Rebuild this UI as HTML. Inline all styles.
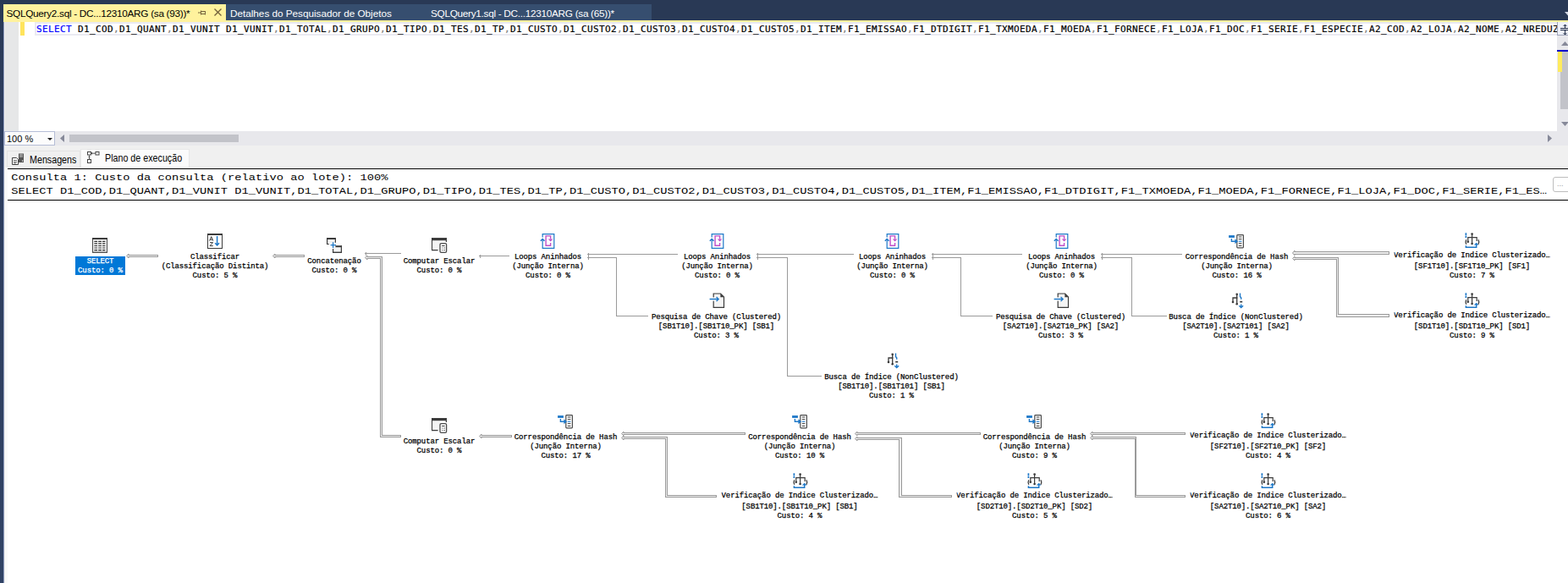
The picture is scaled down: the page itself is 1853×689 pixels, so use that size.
<!DOCTYPE html><html lang="pt-BR"><head><meta charset="utf-8"><title>SQLQuery2.sql - Plano de execução</title><style>
*{box-sizing:border-box}
html,body{margin:0;padding:0}
body{width:1853px;height:689px;overflow:hidden;background:#fff;position:relative;font-family:"Liberation Sans",sans-serif;font-size:12px;color:#000}
.abs,.ic,.n,.t{position:absolute}
.ic{overflow:visible}
#top{left:0;top:0;width:1853px;height:24px;background:#293955}
#strip{left:0;top:0;width:4px;height:689px;background:linear-gradient(#293955,#2c3c5c 15%,#314365)}
#strip2{left:4px;top:26px;width:1px;height:663px;background:#8f9cbd}
#strip3{left:5px;top:26px;width:1px;height:663px;background:#ececec}
#strip4{left:6px;top:199px;width:3px;height:490px;background:#fafafa}
#yline{left:4px;top:24px;width:1849px;height:2px;background:#fff29d}
.tab{position:absolute;top:5px;height:19px;line-height:19px;white-space:nowrap;font-size:11.8px;letter-spacing:-0.3px}
#tab1{left:4px;width:263px;height:21px;background:#fff29d;color:#000}
#tab2{left:267px;width:233px;background:#364e6f;color:#fff}
#tab3{left:500px;width:270px;background:#364e6f;color:#fff}
.tab span{position:absolute;top:2px;left:0}
#gutter{left:4px;top:26px;width:18px;height:129px;background:#e6e7e8}
#chg{left:24px;top:26px;width:5px;height:16px;background:#ffe45c}
#curline{left:41px;top:26px;width:1799px;height:16px;border:2px solid #eaeaf2;border-width:2px 0 2px 2px;background:#fff}
#code{left:43px;top:27px;height:16px;line-height:16px;white-space:pre;font-family:"DejaVu Sans Mono","Liberation Mono",monospace;font-size:11px;letter-spacing:0.377px;width:1797px;overflow:hidden;-webkit-text-stroke:0.2px currentColor}
#code b{font-weight:normal;color:#0000ff}
#code i{font-style:normal;color:#808080}
#vs{left:1840px;top:26px;width:13px;height:129px;background:#e8e8ec}
#split{left:1840px;top:26px;width:13px;height:16px;background:#eef1fa;border-left:1px solid #9fa4b8;border-bottom:1px solid #9fa4b8}
#hs{left:4px;top:155px;width:1849px;height:17px;background:#e8e8ec}
#zoom{left:5px;top:155px;width:60px;height:17px;z-index:3;background:#fcfcfc;border:1px solid #b5bdd6;font-size:11px;line-height:17px;padding-left:2px}
#thumb{left:82px;top:159px;width:200px;height:9px;background:#c2c3c9}
#vthumb{left:1844px;top:61px;width:9px;height:68px;background:#c2c3c9}
#rtabs{left:5px;top:172px;width:1848px;height:27px;background:#f0f0f0}
.rt{position:absolute;white-space:nowrap;font-size:12.5px;transform:scaleX(0.857);transform-origin:0 0}
#rt1{left:8px;top:178px;width:87px;height:21px;background:#f0f0f0;border:1px solid #e3e3e3;border-bottom:none}
#rt2{left:95px;top:176px;width:129px;height:23px;background:#fbfbfb;border:1px solid #e8e8e8;border-bottom:none}
#l1{left:9px;top:199px;width:1844px;height:1px;background:#000}
#l2{left:9px;top:236px;width:1844px;height:1px;background:#000}
.h{position:absolute;left:13.2px;white-space:pre;font-family:"Liberation Mono",monospace;font-size:13.73px;letter-spacing:0.016px;line-height:16px;height:16px;transform:scaleY(0.86);transform-origin:0 12px}
#more{left:1835px;top:209px;width:24px;height:18px;border:1px solid #bdbdbd;border-radius:3px;background:#fff;font-size:9px;color:#999;line-height:15px;padding-left:4px}
.n{white-space:pre;text-align:center;font-family:"Liberation Mono",monospace;font-size:9px;letter-spacing:-0.12px;-webkit-text-stroke:0.25px currentColor;line-height:11px;height:11px;transform:translateX(-50%)}
.n.c{overflow:hidden}
.ia{display:inline-block;clip-path:inset(1px 0 0 0)}
#sel{left:89px;top:303px;width:59px;height:22px;background:#0078d7}
.w{color:#fff}
</style></head><body>
<div class="abs" id="top"></div><div class="abs" id="yline"></div>
<div class="tab" id="tab1"><span style="left:3.5px">SQLQuery2.sql - DC...12310ARG (sa (93))*</span><svg class="ic" style="left:229px;top:4px" width="12" height="12" viewBox="0 0 12 12"><path d="M1 6h3.5M4.5 3.5v5M4.5 4.5h5v3h-5M9.5 4v4.5" fill="none" stroke="#75633d" stroke-width="1"/></svg><svg class="ic" style="left:248px;top:4px" width="12" height="12" viewBox="0 0 12 12"><path d="M1.5 1.5l8 8M9.5 1.5l-8 8" fill="none" stroke="#75633d" stroke-width="1.3"/></svg></div>
<div class="tab" id="tab2"><span style="left:5px;letter-spacing:-0.04px">Detalhes do Pesquisador de Objetos</span></div>
<div class="tab" id="tab3"><span style="left:9px">SQLQuery1.sql - DC...12310ARG (sa (65))*</span></div>
<svg class="ic" style="left:1849px;top:14px" width="8" height="5" viewBox="0 0 8 5"><path d="M0 0h8l-4 4.5z" fill="#d0d6e2"/></svg>
<div class="abs" id="gutter"></div><div class="abs" id="chg"></div><div class="abs" id="curline"></div>
<div class="abs" id="code"><b>SELECT</b> D1_COD<i>,</i>D1_QUANT<i>,</i>D1_VUNIT D1_VUNIT<i>,</i>D1_TOTAL<i>,</i>D1_GRUPO<i>,</i>D1_TIPO<i>,</i>D1_TES<i>,</i>D1_TP<i>,</i>D1_CUSTO<i>,</i>D1_CUSTO2<i>,</i>D1_CUSTO3<i>,</i>D1_CUSTO4<i>,</i>D1_CUSTO5<i>,</i>D1_ITEM<i>,</i>F1_EMISSAO<i>,</i>F1_DTDIGIT<i>,</i>F1_TXMOEDA<i>,</i>F1_MOEDA<i>,</i>F1_FORNECE<i>,</i>F1_LOJA<i>,</i>F1_DOC<i>,</i>F1_SERIE<i>,</i>F1_ESPECIE<i>,</i>A2_COD<i>,</i>A2_LOJA<i>,</i>A2_NOME<i>,</i>A2_NREDUZ</div>
<div class="abs" id="vs"></div><div class="abs" id="vthumb"></div><div class="abs" id="split"></div>
<svg class="ic" style="left:1844px;top:28px" width="12" height="14" viewBox="0 0 12 14"><path d="M0 5.5h12M0 7.5h12M5.5 1v4M5.5 8v5M3.5 3l2-2l2 2M3.5 11l2 2l2-2" fill="none" stroke="#1e2a44" stroke-width="1"/></svg>
<svg class="ic" style="left:1845px;top:49px" width="9" height="5" viewBox="0 0 9 5"><path d="M0 5l4.5-5l4.5 5z" fill="#868999"/></svg>
<svg class="ic" style="left:1845px;top:144px" width="9" height="5" viewBox="0 0 9 5"><path d="M0 0h9l-4.5 5z" fill="#868999"/></svg>
<div class="abs" style="left:1840px;top:59px;width:13px;height:2px;background:#0000cd"></div><div class="abs" style="left:1841px;top:61px;width:5px;height:24px;background:#ffeb5e"></div>
<div class="abs" id="hs"></div><div class="abs" id="zoom">100 %</div><div class="abs" id="thumb"></div>
<svg class="ic" style="left:56px;top:163px;z-index:4" width="6" height="3" viewBox="0 0 6 3"><path d="M0 0h6l-3 3z" fill="#1e1e1e"/></svg>
<svg class="ic" style="left:71px;top:159px" width="5" height="9" viewBox="0 0 5 9"><path d="M5 0v9l-5-4.5z" fill="#868999"/></svg>
<svg class="ic" style="left:1829px;top:159px" width="5" height="9" viewBox="0 0 5 9"><path d="M0 0v9l5-4.5z" fill="#868999"/></svg>
<div class="abs" id="rtabs"></div>
<div class="abs" id="rt1"><span class="rt" style="left:26px;top:2.5px">Mensagens</span><svg class="ic" style="left:5px;top:2px" width="16" height="14" viewBox="0 0 16 14"><path d="M0.5 5.5h5l2 2v6h-7z" fill="#fff" stroke="#444" stroke-width="1"/><path d="M2 8.5h4M2 10.5h4M2 12h3" stroke="#444" stroke-width="0.8"/><rect x="8" y="0.5" width="6" height="10.5" fill="#555"/><path d="M9 2h4M9 4h4" stroke="#eee" stroke-width="0.8"/><rect x="12" y="8.5" width="1.2" height="1.2" fill="#fff"/></svg></div>
<div class="abs" id="rt2"><span class="rt" style="left:28px;top:3px">Plano de execução</span><svg class="ic" style="left:7px;top:2px" width="15" height="14" viewBox="0 0 15 14"><g fill="#fff" stroke="#444" stroke-width="1"><rect x="0.5" y="0.5" width="4" height="3.5"/><rect x="10" y="0.5" width="4" height="3.5"/><rect x="0.5" y="9.5" width="4" height="4"/></g><path d="M5 2.2h5M2.5 4.5v5M6.3 1.2l-1.3 1l1.3 1M1.5 6.4l1 -1l1 1" fill="none" stroke="#444" stroke-width="0.9"/></svg></div>
<div class="abs" style="left:5px;top:198px;width:1848px;height:1px;background:#f9f9f9"></div><div class="abs" id="l1"></div><div class="abs" id="l2"></div>
<div class="h" style="top:202px">Consulta 1: Custo da consulta (relativo ao lote): 100%</div>
<div class="h" style="top:217.8px">SELECT D1_COD,D1_QUANT,D1_VUNIT D1_VUNIT,D1_TOTAL,D1_GRUPO,D1_TIPO,D1_TES,D1_TP,D1_CUSTO,D1_CUSTO2,D1_CUSTO3,D1_CUSTO4,D1_CUSTO5,D1_ITEM,F1_EMISSAO,F1_DTDIGIT,F1_TXMOEDA,F1_MOEDA,F1_FORNECE,F1_LOJA,F1_DOC,F1_SERIE,F1_ES…</div>
<div class="abs" id="more">...</div>
<div class="abs" id="strip"></div><div class="abs" id="strip2"></div><div class="abs" id="strip3"></div><div class="abs" id="strip4"></div>
<svg class="ic" style="left:0;top:0" width="1853" height="689" viewBox="0 0 1853 689" shape-rendering="crispEdges">
<path d="M431 299.5L474 299.5" fill="none" stroke="#9a9a9a" stroke-width="1"/><path d="M432.5 297.5v4" fill="none" stroke="#9a9a9a" stroke-width="1"/>
<path d="M566 302.5L602 302.5" fill="none" stroke="#9a9a9a" stroke-width="1"/><path d="M567.5 300.5v4" fill="none" stroke="#9a9a9a" stroke-width="1"/>
<path d="M694 300.5L801 300.5" fill="none" stroke="#9a9a9a" stroke-width="1"/><path d="M695.5 298.5v4" fill="none" stroke="#9a9a9a" stroke-width="1"/>
<path d="M694 304.5L728.5 304.5L728.5 373.5L766 373.5" fill="none" stroke="#9a9a9a" stroke-width="1"/><path d="M695.5 302.5v4" fill="none" stroke="#9a9a9a" stroke-width="1"/>
<path d="M894 300.5L1009 300.5" fill="none" stroke="#9a9a9a" stroke-width="1"/><path d="M895.5 298.5v4" fill="none" stroke="#9a9a9a" stroke-width="1"/>
<path d="M894 304.5L930.5 304.5L930.5 444.5L971 444.5" fill="none" stroke="#9a9a9a" stroke-width="1"/><path d="M895.5 302.5v4" fill="none" stroke="#9a9a9a" stroke-width="1"/>
<path d="M1101 300.5L1208 300.5" fill="none" stroke="#9a9a9a" stroke-width="1"/><path d="M1102.5 298.5v4" fill="none" stroke="#9a9a9a" stroke-width="1"/>
<path d="M1101 304.5L1135.5 304.5L1135.5 373.5L1173 373.5" fill="none" stroke="#9a9a9a" stroke-width="1"/><path d="M1102.5 302.5v4" fill="none" stroke="#9a9a9a" stroke-width="1"/>
<path d="M1301 300.5L1397 300.5" fill="none" stroke="#9a9a9a" stroke-width="1"/><path d="M1302.5 298.5v4" fill="none" stroke="#9a9a9a" stroke-width="1"/>
<path d="M1301 304.5L1337.5 304.5L1337.5 373.5L1379 373.5" fill="none" stroke="#9a9a9a" stroke-width="1"/><path d="M1302.5 302.5v4" fill="none" stroke="#9a9a9a" stroke-width="1"/>
<rect x="151" y="301" width="36" height="3" fill="#9a9a9a"/><path d="M152 300L149.5 302.5L152 305z" fill="#ececec" stroke="#9a9a9a" stroke-width="1" shape-rendering="auto"/><rect x="151" y="302" width="35" height="1" fill="#ececec"/>
<rect x="324" y="301" width="36" height="3" fill="#9a9a9a"/><path d="M325 300L322.5 302.5L325 305z" fill="#ececec" stroke="#9a9a9a" stroke-width="1" shape-rendering="auto"/><rect x="324" y="302" width="35" height="1" fill="#ececec"/>
<rect x="1529" y="297" width="113" height="4" fill="#9a9a9a"/><path d="M1530 296L1527.5 299.0L1530 302z" fill="#ececec" stroke="#9a9a9a" stroke-width="1" shape-rendering="auto"/><rect x="1529" y="298" width="112" height="2" fill="#ececec"/>
<rect x="568" y="514" width="37" height="3" fill="#9a9a9a"/><path d="M569 513L566.5 515.5L569 518z" fill="#ececec" stroke="#9a9a9a" stroke-width="1" shape-rendering="auto"/><rect x="568" y="515" width="36" height="1" fill="#ececec"/>
<rect x="736" y="511" width="145" height="3" fill="#9a9a9a"/><path d="M737 510L734.5 512.5L737 515z" fill="#ececec" stroke="#9a9a9a" stroke-width="1" shape-rendering="auto"/><rect x="736" y="512" width="144" height="1" fill="#ececec"/>
<rect x="1012" y="511" width="147" height="3" fill="#9a9a9a"/><path d="M1013 510L1010.5 512.5L1013 515z" fill="#ececec" stroke="#9a9a9a" stroke-width="1" shape-rendering="auto"/><rect x="1012" y="512" width="146" height="1" fill="#ececec"/>
<rect x="1290" y="511" width="111" height="3" fill="#9a9a9a"/><path d="M1291 510L1288.5 512.5L1291 515z" fill="#ececec" stroke="#9a9a9a" stroke-width="1" shape-rendering="auto"/><rect x="1290" y="512" width="110" height="1" fill="#ececec"/>
<rect x="433" y="303" width="19" height="3" fill="#9a9a9a"/><rect x="449" y="303" width="3" height="214" fill="#9a9a9a"/><rect x="449" y="514" width="25" height="3" fill="#9a9a9a"/><path d="M434 302L431.5 304.5L434 307z" fill="#ececec" stroke="#9a9a9a" stroke-width="1" shape-rendering="auto"/><rect x="433" y="304" width="18" height="1" fill="#ececec"/><rect x="450" y="304" width="1" height="212" fill="#ececec"/><rect x="450" y="515" width="23" height="1" fill="#ececec"/>
<rect x="1529" y="304" width="53" height="3" fill="#9a9a9a"/><rect x="1579" y="304" width="3" height="71" fill="#9a9a9a"/><rect x="1579" y="371" width="63" height="4" fill="#9a9a9a"/><path d="M1530 303L1527.5 305.5L1530 308z" fill="#ececec" stroke="#9a9a9a" stroke-width="1" shape-rendering="auto"/><rect x="1529" y="305" width="52" height="1" fill="#ececec"/><rect x="1580" y="305" width="1" height="69" fill="#ececec"/><rect x="1580" y="372" width="61" height="2" fill="#ececec"/>
<rect x="736" y="516" width="53" height="3" fill="#9a9a9a"/><rect x="786" y="516" width="3" height="72" fill="#9a9a9a"/><rect x="786" y="585" width="61" height="3" fill="#9a9a9a"/><path d="M737 515L734.5 517.5L737 520z" fill="#ececec" stroke="#9a9a9a" stroke-width="1" shape-rendering="auto"/><rect x="736" y="517" width="52" height="1" fill="#ececec"/><rect x="787" y="517" width="1" height="70" fill="#ececec"/><rect x="787" y="586" width="59" height="1" fill="#ececec"/>
<rect x="1012" y="517" width="54" height="3" fill="#9a9a9a"/><rect x="1062" y="517" width="4" height="71" fill="#9a9a9a"/><rect x="1062" y="585" width="63" height="3" fill="#9a9a9a"/><path d="M1013 516L1010.5 518.5L1013 521z" fill="#ececec" stroke="#9a9a9a" stroke-width="1" shape-rendering="auto"/><rect x="1012" y="518" width="53" height="1" fill="#ececec"/><rect x="1063" y="518" width="2" height="69" fill="#ececec"/><rect x="1063" y="586" width="61" height="1" fill="#ececec"/>
<rect x="1290" y="516" width="53" height="3" fill="#9a9a9a"/><rect x="1341" y="516" width="2" height="72" fill="#9a9a9a"/><rect x="1341" y="585" width="60" height="3" fill="#9a9a9a"/><path d="M1291 515L1288.5 517.5L1291 520z" fill="#ececec" stroke="#9a9a9a" stroke-width="1" shape-rendering="auto"/><rect x="1290" y="517" width="52" height="1" fill="#ececec"/><rect x="1342" y="586" width="58" height="1" fill="#ececec"/>
</svg>
<div class="abs" id="sel"></div>
<svg class="ic" style="left:109px;top:281px" width="18" height="18" viewBox="0 0 18 18"><rect x="0.5" y="0.5" width="17" height="17" fill="#f1f1f1" stroke="#4a4a4a"/><rect x="0" y="0" width="18" height="2" fill="#3b3b3b"/><rect x="0" y="16.6" width="18" height="1.4" fill="#555"/>
<g stroke="#333" stroke-width="1.1"><path d="M2.4 4.4h3.6M7.2 4.4h3.7M12.1 4.4h3.3M2.4 6.9h3.6M7.2 6.9h3.7M12.1 6.9h3.3M2.4 9.5h3.6M7.2 9.5h3.7M12.1 9.5h3.3M2.4 12h3.6M7.2 12h3.7M12.1 12h3.3M2.4 14.6h3.6M7.2 14.6h3.7M12.1 14.6h3.3"/></g></svg>
<div class="n w" style="left:118.5px;top:304.1px">SELECT</div>
<div class="n w" style="left:118.5px;top:315.35px">Custo: 0 %</div>
<svg class="ic" style="left:245px;top:276px" width="18" height="18" viewBox="0 0 18 18"><rect x="0.5" y="0.5" width="17" height="17" fill="#fff" stroke="#3b3b3b"/><rect x="0" y="0" width="18" height="2" fill="#3b3b3b"/>
<path d="M2.6 8.6L4.7 3.6L6.8 8.6M3.3 7.2h2.8" fill="none" stroke="#3b3b3b" stroke-width="1"/><path d="M3 10.6h3.6L3 14.6h3.8" fill="none" stroke="#3b3b3b" stroke-width="1"/>
<path d="M11.6 3v10.6M9.2 11.2l2.4 2.6l2.4-2.6" fill="none" stroke="#1e78c8" stroke-width="1.5"/></svg>
<div class="n" style="left:254px;top:298.6px">Classificar</div>
<div class="n" style="left:254px;top:309.85px">(Classificação Distinta)</div>
<div class="n" style="left:254px;top:321.1px">Custo: 5 %</div>
<svg class="ic" style="left:386px;top:281px" width="18" height="18" viewBox="0 0 18 18"><rect x="1" y="2" width="9" height="5.4" fill="#f4f4f4"/><rect x="0" y="0" width="11" height="2" fill="#3b3b3b"/><rect x="0" y="0" width="1.2" height="8" fill="#3b3b3b"/><rect x="9.8" y="0" width="1.2" height="5.8" fill="#3b3b3b"/><rect x="0" y="7" width="2.8" height="1" fill="#3b3b3b"/>
<rect x="8" y="11" width="9" height="6" fill="#f4f4f4"/><rect x="10.4" y="9.2" width="7.6" height="2" fill="#3b3b3b"/><rect x="7" y="13" width="1.2" height="5" fill="#3b3b3b"/><rect x="16.8" y="9.2" width="1.2" height="8.8" fill="#3b3b3b"/><rect x="7" y="16.6" width="11" height="1.4" fill="#3b3b3b"/>
<path d="M4.6 8.6h6.4M7.6 5.2v6.8" stroke="#1e78c8" stroke-width="1.3" fill="none"/></svg>
<div class="n" style="left:395px;top:304.1px">Concatenação</div>
<div class="n" style="left:395px;top:315.35px">Custo: 0 %</div>
<svg class="ic" style="left:510px;top:281px" width="18" height="18" viewBox="0 0 18 18"><path d="M0.6 1v13.6h7" fill="none" stroke="#3b3b3b" stroke-width="1.2"/><rect x="1.2" y="3" width="9" height="11" fill="#f4f4f4"/><rect x="0" y="0" width="18" height="3.2" fill="#3b3b3b"/><path d="M17.4 3v2" stroke="#3b3b3b" stroke-width="1.2"/>
<rect x="10" y="6.6" width="7.6" height="10.8" rx="1.4" fill="#fff" stroke="#4a4a4a" stroke-width="1.3"/><path d="M12.2 9.5h3.4M12.4 12h1M14.6 12h1.3M12.4 14.6h1M14.6 14.6h1.3" stroke="#3b3b3b" stroke-width="1"/></svg>
<div class="n" style="left:519px;top:304.1px">Computar Escalar</div>
<div class="n" style="left:519px;top:315.35px">Custo: 0 %</div>
<svg class="ic" style="left:638.4px;top:276px" width="18" height="18" viewBox="0 0 18 18"><path d="M3.2 4.6V0.6h13.6v16.8H3.2V6.4" fill="#fff" stroke="#1e78c8" stroke-width="1.2"/><path d="M0.8 8.8L3.2 6.4L5.6 8.8" fill="none" stroke="#1e78c8" stroke-width="1.4"/>
<path d="M12.6 6.5V2.9H7.1v11.3h5.5V11" fill="none" stroke="#c050c8" stroke-width="1.4"/><path d="M9.8 6.4h5.6l-2.8 3.1z" fill="#c050c8"/></svg>
<div class="n" style="left:647.5px;top:298.6px">Loops Aninhados</div>
<div class="n" style="left:647.5px;top:309.85px">(Junção Interna)</div>
<div class="n" style="left:647.5px;top:321.1px">Custo: 0 %</div>
<svg class="ic" style="left:838.4px;top:276px" width="18" height="18" viewBox="0 0 18 18"><path d="M3.2 4.6V0.6h13.6v16.8H3.2V6.4" fill="#fff" stroke="#1e78c8" stroke-width="1.2"/><path d="M0.8 8.8L3.2 6.4L5.6 8.8" fill="none" stroke="#1e78c8" stroke-width="1.4"/>
<path d="M12.6 6.5V2.9H7.1v11.3h5.5V11" fill="none" stroke="#c050c8" stroke-width="1.4"/><path d="M9.8 6.4h5.6l-2.8 3.1z" fill="#c050c8"/></svg>
<div class="n" style="left:847.5px;top:298.6px">Loops Aninhados</div>
<div class="n" style="left:847.5px;top:309.85px">(Junção Interna)</div>
<div class="n" style="left:847.5px;top:321.1px">Custo: 0 %</div>
<svg class="ic" style="left:1045.4px;top:276px" width="18" height="18" viewBox="0 0 18 18"><path d="M3.2 4.6V0.6h13.6v16.8H3.2V6.4" fill="#fff" stroke="#1e78c8" stroke-width="1.2"/><path d="M0.8 8.8L3.2 6.4L5.6 8.8" fill="none" stroke="#1e78c8" stroke-width="1.4"/>
<path d="M12.6 6.5V2.9H7.1v11.3h5.5V11" fill="none" stroke="#c050c8" stroke-width="1.4"/><path d="M9.8 6.4h5.6l-2.8 3.1z" fill="#c050c8"/></svg>
<div class="n" style="left:1054.5px;top:298.6px">Loops Aninhados</div>
<div class="n" style="left:1054.5px;top:309.85px">(Junção Interna)</div>
<div class="n" style="left:1054.5px;top:321.1px">Custo: 0 %</div>
<svg class="ic" style="left:1245.4px;top:276px" width="18" height="18" viewBox="0 0 18 18"><path d="M3.2 4.6V0.6h13.6v16.8H3.2V6.4" fill="#fff" stroke="#1e78c8" stroke-width="1.2"/><path d="M0.8 8.8L3.2 6.4L5.6 8.8" fill="none" stroke="#1e78c8" stroke-width="1.4"/>
<path d="M12.6 6.5V2.9H7.1v11.3h5.5V11" fill="none" stroke="#c050c8" stroke-width="1.4"/><path d="M9.8 6.4h5.6l-2.8 3.1z" fill="#c050c8"/></svg>
<div class="n" style="left:1254.5px;top:298.6px">Loops Aninhados</div>
<div class="n" style="left:1254.5px;top:309.85px">(Junção Interna)</div>
<div class="n" style="left:1254.5px;top:321.1px">Custo: 0 %</div>
<svg class="ic" style="left:1451px;top:276px" width="18" height="18" viewBox="0 0 18 18"><rect x="10.8" y="1.6" width="7.6" height="15.2" rx="0.8" fill="#fff" stroke="#4a4a4a" stroke-width="1.2"/>
<path d="M12.8 4h3.6M12.8 6.6h3.6M12.8 11.6h3.6M12.8 14.4h3.6" stroke="#3b3b3b" stroke-width="1"/><path d="M12.8 9.2h3.6" stroke="#1e78c8" stroke-width="1.1"/>
<rect x="1.1" y="2.1" width="6.8" height="2.8" fill="#1e78c8"/><path d="M4.4 6v3.2h5" fill="none" stroke="#1e78c8" stroke-width="1.4"/><path d="M8.4 6.2l3.6 3l-3.6 3z" fill="#1e78c8"/></svg>
<div class="n" style="left:1461.5px;top:298.6px">Correspondência de Hash</div>
<div class="n" style="left:1461.5px;top:309.85px">(Junção Interna)</div>
<div class="n" style="left:1461.5px;top:321.1px">Custo: 16 %</div>
<svg class="ic" style="left:1730px;top:275px" width="18" height="18" viewBox="0 0 18 18"><path d="M2.4 0.2v5.8" stroke="#1e78c8" stroke-width="1.7" stroke-dasharray="3.4 0.5"/><path d="M2.4 15.2v2.1h12.3v-3.6" fill="none" stroke="#1e78c8" stroke-width="1.5"/><path d="M11.8 14.6l2.9-2.9l2.9 2.9z" fill="#1e78c8"/>
<path d="M9.6 1v12M4.8 10.6V5.6h10.4v4.4" fill="none" stroke="#3b3b3b" stroke-width="1.2"/><circle cx="9.6" cy="1.5" r="1.3" fill="#3b3b3b"/><circle cx="4.8" cy="10.8" r="1.3" fill="#3b3b3b"/><circle cx="9.6" cy="13" r="1.3" fill="#3b3b3b"/>
<path d="M2.8 8.2q-1.6 2.8 0 5.6M17 8.2q1.6 2.8 0 5.6" fill="none" stroke="#3b3b3b" stroke-width="1.3"/></svg>
<div class="n c" style="left:1739.5px;top:297px">Verificação de <span class=ia>Í</span>ndice Clusterizado…</div>
<div class="n" style="left:1739.5px;top:309.85px">[SF1T10].[SF1T10_PK] [SF1]</div>
<div class="n" style="left:1739.5px;top:321.1px">Custo: 7 %</div>
<svg class="ic" style="left:1730px;top:346px" width="18" height="18" viewBox="0 0 18 18"><path d="M2.4 0.2v5.8" stroke="#1e78c8" stroke-width="1.7" stroke-dasharray="3.4 0.5"/><path d="M2.4 15.2v2.1h12.3v-3.6" fill="none" stroke="#1e78c8" stroke-width="1.5"/><path d="M11.8 14.6l2.9-2.9l2.9 2.9z" fill="#1e78c8"/>
<path d="M9.6 1v12M4.8 10.6V5.6h10.4v4.4" fill="none" stroke="#3b3b3b" stroke-width="1.2"/><circle cx="9.6" cy="1.5" r="1.3" fill="#3b3b3b"/><circle cx="4.8" cy="10.8" r="1.3" fill="#3b3b3b"/><circle cx="9.6" cy="13" r="1.3" fill="#3b3b3b"/>
<path d="M2.8 8.2q-1.6 2.8 0 5.6M17 8.2q1.6 2.8 0 5.6" fill="none" stroke="#3b3b3b" stroke-width="1.3"/></svg>
<div class="n c" style="left:1739.5px;top:368px">Verificação de <span class=ia>Í</span>ndice Clusterizado…</div>
<div class="n" style="left:1739.5px;top:380.85px">[SD1T10].[SD1T10_PK] [SD1]</div>
<div class="n" style="left:1739.5px;top:392.1px">Custo: 9 %</div>
<svg class="ic" style="left:838px;top:346px" width="18" height="18" viewBox="0 0 18 18"><path d="M5.2 1h8.4l3.9 3.9v12.5H5.2z" fill="#f4f4f4" stroke="#3b3b3b" stroke-width="1.2"/><path d="M13.4 1v4.2h4.2z" fill="#3b3b3b"/><rect x="4" y="5.4" width="3" height="4.2" fill="#fff"/>
<path d="M0.6 7.5h10.4M8.6 5l2.6 2.5l-2.6 2.5" fill="none" stroke="#1e78c8" stroke-width="1.3"/></svg>
<div class="n" style="left:846.5px;top:369.6px">Pesquisa de Chave (Clustered)</div>
<div class="n" style="left:846.5px;top:380.85px">[SB1T10].[SB1T10_PK] [SB1]</div>
<div class="n" style="left:846.5px;top:392.1px">Custo: 3 %</div>
<svg class="ic" style="left:1245px;top:346px" width="18" height="18" viewBox="0 0 18 18"><path d="M5.2 1h8.4l3.9 3.9v12.5H5.2z" fill="#f4f4f4" stroke="#3b3b3b" stroke-width="1.2"/><path d="M13.4 1v4.2h4.2z" fill="#3b3b3b"/><rect x="4" y="5.4" width="3" height="4.2" fill="#fff"/>
<path d="M0.6 7.5h10.4M8.6 5l2.6 2.5l-2.6 2.5" fill="none" stroke="#1e78c8" stroke-width="1.3"/></svg>
<div class="n" style="left:1253.5px;top:369.6px">Pesquisa de Chave (Clustered)</div>
<div class="n" style="left:1253.5px;top:380.85px">[SA2T10].[SA2T10_PK] [SA2]</div>
<div class="n" style="left:1253.5px;top:392.1px">Custo: 3 %</div>
<svg class="ic" style="left:1452px;top:346px" width="18" height="18" viewBox="0 0 18 18"><path d="M9.7 1.5v12M5 11V6h5.6" fill="none" stroke="#3b3b3b" stroke-width="1.3"/><circle cx="9.7" cy="1.7" r="1.3" fill="#3b3b3b"/><circle cx="5" cy="11" r="1.3" fill="#3b3b3b"/><circle cx="9.7" cy="13.2" r="1.3" fill="#3b3b3b"/>
<path d="M13.5 0.6v4l1.2 1.2v2" fill="none" stroke="#1e78c8" stroke-width="1.4"/><rect x="13.2" y="9.8" width="3" height="1.7" fill="#3b3b3b"/><path d="M14.7 13.4v4M12.3 15.2l2.4 2.4l2.4-2.4" fill="none" stroke="#1e78c8" stroke-width="1.4"/></svg>
<div class="n" style="left:1460.5px;top:369.6px">Busca de Índice (NonClustered)</div>
<div class="n" style="left:1460.5px;top:380.85px">[SA2T10].[SA2T101] [SA2]</div>
<div class="n" style="left:1460.5px;top:392.1px">Custo: 1 %</div>
<svg class="ic" style="left:1045px;top:417px" width="18" height="18" viewBox="0 0 18 18"><path d="M9.7 1.5v12M5 11V6h5.6" fill="none" stroke="#3b3b3b" stroke-width="1.3"/><circle cx="9.7" cy="1.7" r="1.3" fill="#3b3b3b"/><circle cx="5" cy="11" r="1.3" fill="#3b3b3b"/><circle cx="9.7" cy="13.2" r="1.3" fill="#3b3b3b"/>
<path d="M13.5 0.6v4l1.2 1.2v2" fill="none" stroke="#1e78c8" stroke-width="1.4"/><rect x="13.2" y="9.8" width="3" height="1.7" fill="#3b3b3b"/><path d="M14.7 13.4v4M12.3 15.2l2.4 2.4l2.4-2.4" fill="none" stroke="#1e78c8" stroke-width="1.4"/></svg>
<div class="n" style="left:1053.5px;top:440.6px">Busca de Índice (NonClustered)</div>
<div class="n" style="left:1053.5px;top:451.85px">[SB1T10].[SB1T101] [SB1]</div>
<div class="n" style="left:1053.5px;top:463.1px">Custo: 1 %</div>
<svg class="ic" style="left:510px;top:494px" width="18" height="18" viewBox="0 0 18 18"><path d="M0.6 1v13.6h7" fill="none" stroke="#3b3b3b" stroke-width="1.2"/><rect x="1.2" y="3" width="9" height="11" fill="#f4f4f4"/><rect x="0" y="0" width="18" height="3.2" fill="#3b3b3b"/><path d="M17.4 3v2" stroke="#3b3b3b" stroke-width="1.2"/>
<rect x="10" y="6.6" width="7.6" height="10.8" rx="1.4" fill="#fff" stroke="#4a4a4a" stroke-width="1.3"/><path d="M12.2 9.5h3.4M12.4 12h1M14.6 12h1.3M12.4 14.6h1M14.6 14.6h1.3" stroke="#3b3b3b" stroke-width="1"/></svg>
<div class="n" style="left:519px;top:517.1px">Computar Escalar</div>
<div class="n" style="left:519px;top:528.35px">Custo: 0 %</div>
<svg class="ic" style="left:658.0px;top:489px" width="18" height="18" viewBox="0 0 18 18"><rect x="10.8" y="1.6" width="7.6" height="15.2" rx="0.8" fill="#fff" stroke="#4a4a4a" stroke-width="1.2"/>
<path d="M12.8 4h3.6M12.8 6.6h3.6M12.8 11.6h3.6M12.8 14.4h3.6" stroke="#3b3b3b" stroke-width="1"/><path d="M12.8 9.2h3.6" stroke="#1e78c8" stroke-width="1.1"/>
<rect x="1.1" y="2.1" width="6.8" height="2.8" fill="#1e78c8"/><path d="M4.4 6v3.2h5" fill="none" stroke="#1e78c8" stroke-width="1.4"/><path d="M8.4 6.2l3.6 3l-3.6 3z" fill="#1e78c8"/></svg>
<div class="n" style="left:668.5px;top:511.6px">Correspondência de Hash</div>
<div class="n" style="left:668.5px;top:522.85px">(Junção Interna)</div>
<div class="n" style="left:668.5px;top:534.1px">Custo: 17 %</div>
<svg class="ic" style="left:934.5px;top:489px" width="18" height="18" viewBox="0 0 18 18"><rect x="10.8" y="1.6" width="7.6" height="15.2" rx="0.8" fill="#fff" stroke="#4a4a4a" stroke-width="1.2"/>
<path d="M12.8 4h3.6M12.8 6.6h3.6M12.8 11.6h3.6M12.8 14.4h3.6" stroke="#3b3b3b" stroke-width="1"/><path d="M12.8 9.2h3.6" stroke="#1e78c8" stroke-width="1.1"/>
<rect x="1.1" y="2.1" width="6.8" height="2.8" fill="#1e78c8"/><path d="M4.4 6v3.2h5" fill="none" stroke="#1e78c8" stroke-width="1.4"/><path d="M8.4 6.2l3.6 3l-3.6 3z" fill="#1e78c8"/></svg>
<div class="n" style="left:945px;top:511.6px">Correspondência de Hash</div>
<div class="n" style="left:945px;top:522.85px">(Junção Interna)</div>
<div class="n" style="left:945px;top:534.1px">Custo: 10 %</div>
<svg class="ic" style="left:1212.0px;top:489px" width="18" height="18" viewBox="0 0 18 18"><rect x="10.8" y="1.6" width="7.6" height="15.2" rx="0.8" fill="#fff" stroke="#4a4a4a" stroke-width="1.2"/>
<path d="M12.8 4h3.6M12.8 6.6h3.6M12.8 11.6h3.6M12.8 14.4h3.6" stroke="#3b3b3b" stroke-width="1"/><path d="M12.8 9.2h3.6" stroke="#1e78c8" stroke-width="1.1"/>
<rect x="1.1" y="2.1" width="6.8" height="2.8" fill="#1e78c8"/><path d="M4.4 6v3.2h5" fill="none" stroke="#1e78c8" stroke-width="1.4"/><path d="M8.4 6.2l3.6 3l-3.6 3z" fill="#1e78c8"/></svg>
<div class="n" style="left:1222.5px;top:511.6px">Correspondência de Hash</div>
<div class="n" style="left:1222.5px;top:522.85px">(Junção Interna)</div>
<div class="n" style="left:1222.5px;top:534.1px">Custo: 9 %</div>
<svg class="ic" style="left:1489px;top:488px" width="18" height="18" viewBox="0 0 18 18"><path d="M2.4 0.2v5.8" stroke="#1e78c8" stroke-width="1.7" stroke-dasharray="3.4 0.5"/><path d="M2.4 15.2v2.1h12.3v-3.6" fill="none" stroke="#1e78c8" stroke-width="1.5"/><path d="M11.8 14.6l2.9-2.9l2.9 2.9z" fill="#1e78c8"/>
<path d="M9.6 1v12M4.8 10.6V5.6h10.4v4.4" fill="none" stroke="#3b3b3b" stroke-width="1.2"/><circle cx="9.6" cy="1.5" r="1.3" fill="#3b3b3b"/><circle cx="4.8" cy="10.8" r="1.3" fill="#3b3b3b"/><circle cx="9.6" cy="13" r="1.3" fill="#3b3b3b"/>
<path d="M2.8 8.2q-1.6 2.8 0 5.6M17 8.2q1.6 2.8 0 5.6" fill="none" stroke="#3b3b3b" stroke-width="1.3"/></svg>
<div class="n c" style="left:1498.5px;top:510px">Verificação de <span class=ia>Í</span>ndice Clusterizado…</div>
<div class="n" style="left:1498.5px;top:522.85px">[SF2T10].[SF2T10_PK] [SF2]</div>
<div class="n" style="left:1498.5px;top:534.1px">Custo: 4 %</div>
<svg class="ic" style="left:935.5px;top:559px" width="18" height="18" viewBox="0 0 18 18"><path d="M2.4 0.2v5.8" stroke="#1e78c8" stroke-width="1.7" stroke-dasharray="3.4 0.5"/><path d="M2.4 15.2v2.1h12.3v-3.6" fill="none" stroke="#1e78c8" stroke-width="1.5"/><path d="M11.8 14.6l2.9-2.9l2.9 2.9z" fill="#1e78c8"/>
<path d="M9.6 1v12M4.8 10.6V5.6h10.4v4.4" fill="none" stroke="#3b3b3b" stroke-width="1.2"/><circle cx="9.6" cy="1.5" r="1.3" fill="#3b3b3b"/><circle cx="4.8" cy="10.8" r="1.3" fill="#3b3b3b"/><circle cx="9.6" cy="13" r="1.3" fill="#3b3b3b"/>
<path d="M2.8 8.2q-1.6 2.8 0 5.6M17 8.2q1.6 2.8 0 5.6" fill="none" stroke="#3b3b3b" stroke-width="1.3"/></svg>
<div class="n c" style="left:945px;top:581px">Verificação de <span class=ia>Í</span>ndice Clusterizado…</div>
<div class="n" style="left:945px;top:593.85px">[SB1T10].[SB1T10_PK] [SB1]</div>
<div class="n" style="left:945px;top:605.1px">Custo: 4 %</div>
<svg class="ic" style="left:1213px;top:559px" width="18" height="18" viewBox="0 0 18 18"><path d="M2.4 0.2v5.8" stroke="#1e78c8" stroke-width="1.7" stroke-dasharray="3.4 0.5"/><path d="M2.4 15.2v2.1h12.3v-3.6" fill="none" stroke="#1e78c8" stroke-width="1.5"/><path d="M11.8 14.6l2.9-2.9l2.9 2.9z" fill="#1e78c8"/>
<path d="M9.6 1v12M4.8 10.6V5.6h10.4v4.4" fill="none" stroke="#3b3b3b" stroke-width="1.2"/><circle cx="9.6" cy="1.5" r="1.3" fill="#3b3b3b"/><circle cx="4.8" cy="10.8" r="1.3" fill="#3b3b3b"/><circle cx="9.6" cy="13" r="1.3" fill="#3b3b3b"/>
<path d="M2.8 8.2q-1.6 2.8 0 5.6M17 8.2q1.6 2.8 0 5.6" fill="none" stroke="#3b3b3b" stroke-width="1.3"/></svg>
<div class="n c" style="left:1222.5px;top:581px">Verificação de <span class=ia>Í</span>ndice Clusterizado…</div>
<div class="n" style="left:1222.5px;top:593.85px">[SD2T10].[SD2T10_PK] [SD2]</div>
<div class="n" style="left:1222.5px;top:605.1px">Custo: 5 %</div>
<svg class="ic" style="left:1489px;top:559px" width="18" height="18" viewBox="0 0 18 18"><path d="M2.4 0.2v5.8" stroke="#1e78c8" stroke-width="1.7" stroke-dasharray="3.4 0.5"/><path d="M2.4 15.2v2.1h12.3v-3.6" fill="none" stroke="#1e78c8" stroke-width="1.5"/><path d="M11.8 14.6l2.9-2.9l2.9 2.9z" fill="#1e78c8"/>
<path d="M9.6 1v12M4.8 10.6V5.6h10.4v4.4" fill="none" stroke="#3b3b3b" stroke-width="1.2"/><circle cx="9.6" cy="1.5" r="1.3" fill="#3b3b3b"/><circle cx="4.8" cy="10.8" r="1.3" fill="#3b3b3b"/><circle cx="9.6" cy="13" r="1.3" fill="#3b3b3b"/>
<path d="M2.8 8.2q-1.6 2.8 0 5.6M17 8.2q1.6 2.8 0 5.6" fill="none" stroke="#3b3b3b" stroke-width="1.3"/></svg>
<div class="n c" style="left:1498.5px;top:581px">Verificação de <span class=ia>Í</span>ndice Clusterizado…</div>
<div class="n" style="left:1498.5px;top:593.85px">[SA2T10].[SA2T10_PK] [SA2]</div>
<div class="n" style="left:1498.5px;top:605.1px">Custo: 6 %</div>
</body></html>
